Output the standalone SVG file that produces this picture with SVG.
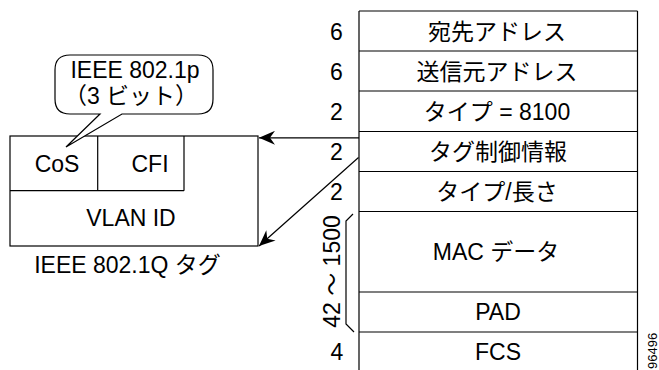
<svg xmlns="http://www.w3.org/2000/svg" width="659" height="370" viewBox="0 0 659 370">
<style>
  .ln { fill: none; stroke: #000; stroke-width: 1.2; }
  .bx { fill: #fff; stroke: #000; stroke-width: 1.2; }
  .t { font-family: "Liberation Sans", "Noto Sans CJK JP", sans-serif; font-size: 23px; fill: #000; text-anchor: middle; }
  .id { font-family: "Liberation Sans", sans-serif; font-size: 13px; fill: #000; }
</style>
<defs>
  <marker id="ah" viewBox="0 0 16 14" refX="16" refY="7" markerWidth="16" markerHeight="14" markerUnits="userSpaceOnUse" orient="auto">
    <path d="M0,0 L16,7 L0,14 L5,7 Z" fill="#000"/>
  </marker>
</defs>
<rect width="659" height="370" fill="#fff"/>

<g id="frame">
  <path class="ln" d="M359,11 H637.5 M359,11 V372 M637.5,11 V372 M359,51 H637.5 M359,91 H637.5 M359,131.5 H637.5 M359,171.5 H637.5 M359,211.5 H637.5 M359,292 H637.5 M359,332 H637.5"/>
</g>
<g id="row-dst">
  <text class="t" x="336.5" y="39.5">6</text>
  <text class="t" x="497" y="39.5">宛先アドレス</text>
</g>
<g id="row-src">
  <text class="t" x="336.5" y="79.5">6</text>
  <text class="t" x="497" y="79.5">送信元アドレス</text>
</g>
<g id="row-type">
  <text class="t" x="336.5" y="119.5">2</text>
  <text class="t" x="497" y="119.5">タイプ = 8100</text>
</g>
<g id="row-tci">
  <text class="t" x="336.5" y="159.5">2</text>
  <text class="t" x="498" y="159.5">タグ制御情報</text>
</g>
<g id="row-len">
  <text class="t" x="336.5" y="199.5">2</text>
  <text class="t" x="497" y="199.5">タイプ/長さ</text>
</g>
<g id="row-data">
  <text class="t" x="496" y="259.5">MAC データ</text>
</g>
<g id="row-pad">
  <text class="t" x="498" y="320">PAD</text>
</g>
<g id="size-range">
  <path class="ln" stroke-width="1" d="M353,214 L346,221 V324 L354,332"/>
  <text class="t" transform="translate(340,271.5) rotate(-90)">42 ～ 1500</text>
</g>
<g id="row-fcs">
  <text class="t" x="337" y="360">4</text>
  <text class="t" x="498" y="360">FCS</text>
</g>

<g id="tag">
  <rect class="bx" x="10" y="136" width="248" height="110"/>
  <path class="ln" d="M97.7,136 V190.7 M184,136 V190.7 M10,190.7 H184"/>
  <text class="t" x="57" y="172">CoS</text>
  <text class="t" x="150" y="172">CFI</text>
  <text class="t" x="131" y="226">VLAN ID</text>
  <text class="t" x="127.5" y="272.5">IEEE 802.1Q タグ</text>
</g>

<g id="callout">
  <path class="bx" d="M100,114 L70,114 Q55,114 55,99 L55,70 Q55,55 70,55 L198,55 Q213,55 213,70 L213,99 Q213,114 198,114 L122,114 L66,147 Z"/>
  <text class="t" x="135" y="78">IEEE 802.1p</text>
  <text class="t" x="131" y="104">（3 ビット）</text>
</g>

<g id="connectors">
  <line class="ln" x1="359" y1="137.8" x2="259" y2="137.8" marker-end="url(#ah)"/>
  <line class="ln" x1="358.5" y1="157.5" x2="259" y2="246" marker-end="url(#ah)"/>
</g>

<text class="id" transform="translate(657,369) rotate(-90)">96496</text>
</svg>
